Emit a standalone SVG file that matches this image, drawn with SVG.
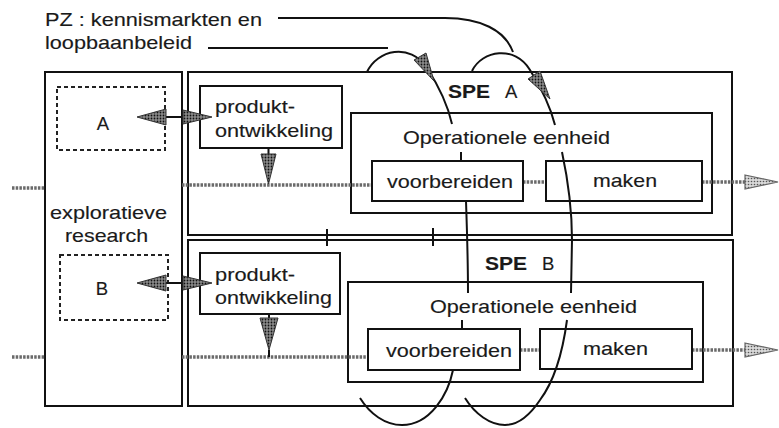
<svg xmlns="http://www.w3.org/2000/svg" width="779" height="428" viewBox="0 0 779 428">
<defs>
<pattern id="hatch" width="3" height="3" patternUnits="userSpaceOnUse">
<rect width="3" height="3" fill="#8a8a8a"/>
<circle cx="1.5" cy="1.5" r="0.9" fill="#111"/>
</pattern>
<pattern id="hatchL" width="3" height="3" patternUnits="userSpaceOnUse">
<rect width="3" height="3" fill="#d8d8d8"/>
<circle cx="1.5" cy="1.5" r="0.8" fill="#555"/>
</pattern>
</defs>
<style>
.box{fill:#fff;stroke:#111;stroke-width:2}
.frame{fill:none;stroke:#111;stroke-width:2}
.dash{fill:none;stroke:#222;stroke-width:2;stroke-dasharray:4 3}
.t{font-family:"Liberation Sans",Arial,sans-serif;font-size:18.5px;fill:#1a1a1a;stroke:#1a1a1a;stroke-width:0.15}
.b{font-weight:bold;font-size:19px}
.flow{fill:none;stroke:#6a6a6a;stroke-width:3.5;stroke-dasharray:2.5 1.2}
.ln{fill:none;stroke:#111;stroke-width:2}
.head{fill:url(#hatch);stroke:#333;stroke-width:1}
.headL{fill:url(#hatchL);stroke:#666;stroke-width:1.2}
</style>
<rect width="779" height="428" fill="#fff"/>

<g id="label-pz">
<text class="t" x="45" y="26" textLength="217" lengthAdjust="spacingAndGlyphs">PZ : kennismarkten en</text>
<text class="t" x="45" y="49" textLength="147" lengthAdjust="spacingAndGlyphs">loopbaanbeleid</text>
</g>

<g id="explorative">
<rect class="frame" x="45" y="72" width="137" height="334"/>
<text class="t" x="50" y="219" textLength="117" lengthAdjust="spacingAndGlyphs">exploratieve</text>
<text class="t" x="65" y="242" textLength="83" lengthAdjust="spacingAndGlyphs">research</text>
</g>
<g id="res-a">
<rect class="dash" x="57" y="87" width="108" height="63"/>
<text class="t" x="103" y="130" text-anchor="middle">A</text>
</g>
<g id="res-b">
<rect class="dash" x="60" y="255" width="108" height="65"/>
<text class="t" x="102" y="295" text-anchor="middle">B</text>
</g>

<g id="spe-a">
<rect class="frame" x="188" y="72" width="544" height="163"/>
<text class="t b" x="448" y="98" textLength="42" lengthAdjust="spacingAndGlyphs">SPE</text>
<text class="t" x="505" y="98" font-size="19">A</text>
</g>
<g id="spe-b">
<rect class="frame" x="188" y="240" width="545" height="166"/>
<text class="t b" x="485" y="270" textLength="42" lengthAdjust="spacingAndGlyphs">SPE</text>
<text class="t" x="542" y="270" font-size="19">B</text>
</g>

<g id="prod-a">
<rect class="box" x="200" y="86" width="142" height="62"/>
<text class="t" x="215" y="113" textLength="80" lengthAdjust="spacingAndGlyphs">produkt-</text>
<text class="t" x="215" y="137" textLength="118" lengthAdjust="spacingAndGlyphs">ontwikkeling</text>
</g>
<g id="prod-b">
<rect class="box" x="200" y="253" width="140" height="61"/>
<text class="t" x="215" y="281" textLength="80" lengthAdjust="spacingAndGlyphs">produkt-</text>
<text class="t" x="215" y="304" textLength="117" lengthAdjust="spacingAndGlyphs">ontwikkeling</text>
</g>

<g id="op-a">
<rect class="box" x="351" y="113" width="361" height="100"/>
<text class="t" x="403" y="144" textLength="207" lengthAdjust="spacingAndGlyphs">Operationele eenheid</text>
</g>
<g id="op-b">
<rect class="box" x="348" y="282" width="355" height="100"/>
<text class="t" x="430" y="313" textLength="207" lengthAdjust="spacingAndGlyphs">Operationele eenheid</text>
</g>

<g id="connectors">
<line class="flow" x1="12" y1="188" x2="45" y2="188"/>
<line class="flow" x1="182" y1="185" x2="372" y2="185"/>
<line class="flow" x1="523" y1="182" x2="546" y2="182"/>
<line class="flow" x1="702" y1="182" x2="748" y2="182"/>
<polygon class="headL" points="745,175 778,182 745,189"/>
<line class="flow" x1="12" y1="357" x2="45" y2="357"/>
<line class="flow" x1="182" y1="357" x2="368" y2="357"/>
<line class="flow" x1="520" y1="350" x2="540" y2="350"/>
<line class="flow" x1="692" y1="350" x2="748" y2="350"/>
<polygon class="headL" points="745,343 778,350 745,357"/>
<line class="ln" x1="268.5" y1="148" x2="268.5" y2="155"/>
<polygon class="head" points="261,154 276,154 268.5,184"/>
<line class="ln" x1="269" y1="314" x2="269" y2="319"/>
<polygon class="head" points="260,318 278,318 269,350"/>
<line class="ln" x1="269" y1="350" x2="269" y2="357"/>
<line class="ln" x1="160" y1="117" x2="190" y2="117"/>
<polygon class="head" points="137,117 166,109 166,125"/>
<polygon class="head" points="212,117 183,110 183,124"/>
<line class="ln" x1="160" y1="283" x2="190" y2="283"/>
<polygon class="head" points="137,283 166,275 166,291"/>
<polygon class="head" points="212,283 183,276 183,290"/>
<line class="ln" x1="327" y1="229" x2="327" y2="246"/>
<line class="ln" x1="433" y1="228" x2="433" y2="246"/>
<path class="ln" d="M208,48 L388,48"/>
<path class="ln" d="M278,18 L445,18 C480,18 505,30 513,52"/>
<path class="ln" d="M367,72 C377,50 410,42 427,68 C440,88 448,106 452,124"/>
<polygon class="head" points="414,60 426,53 434,81"/>
<line class="ln" x1="461" y1="152" x2="461" y2="161"/>
<path class="ln" d="M466,201 C467,230 468,260 468,293"/>
<line class="ln" x1="462" y1="320" x2="462" y2="329"/>
<path class="ln" d="M453,370 C448,395 430,425 402,425 C385,425 370,414 360,398"/>
<path class="ln" d="M472,71 C482,50 515,45 530,70 C540,86 550,105 555,125"/>
<polygon class="head" points="528,79 540,71 550,99"/>
<path class="ln" d="M562,152 C568,180 572,210 572,240 L571,293"/>
<path class="ln" d="M567,320 C563,350 555,380 540,400 C530,415 518,425 505,425 C490,425 475,414 465,398"/>
</g>

<g id="voorb-a">
<rect class="box" x="372" y="161" width="151" height="40"/>
<text class="t" x="387" y="188" textLength="126" lengthAdjust="spacingAndGlyphs">voorbereiden</text>
</g>
<g id="maken-a">
<rect class="frame" x="546" y="161" width="156" height="40"/>
<text class="t" x="593" y="187" textLength="64" lengthAdjust="spacingAndGlyphs">maken</text>
</g>
<g id="voorb-b">
<rect class="box" x="368" y="329" width="152" height="41"/>
<text class="t" x="386" y="357" textLength="126" lengthAdjust="spacingAndGlyphs">voorbereiden</text>
</g>
<g id="maken-b">
<rect class="frame" x="540" y="329" width="152" height="40"/>
<text class="t" x="583" y="355" textLength="65" lengthAdjust="spacingAndGlyphs">maken</text>
</g>
</svg>
